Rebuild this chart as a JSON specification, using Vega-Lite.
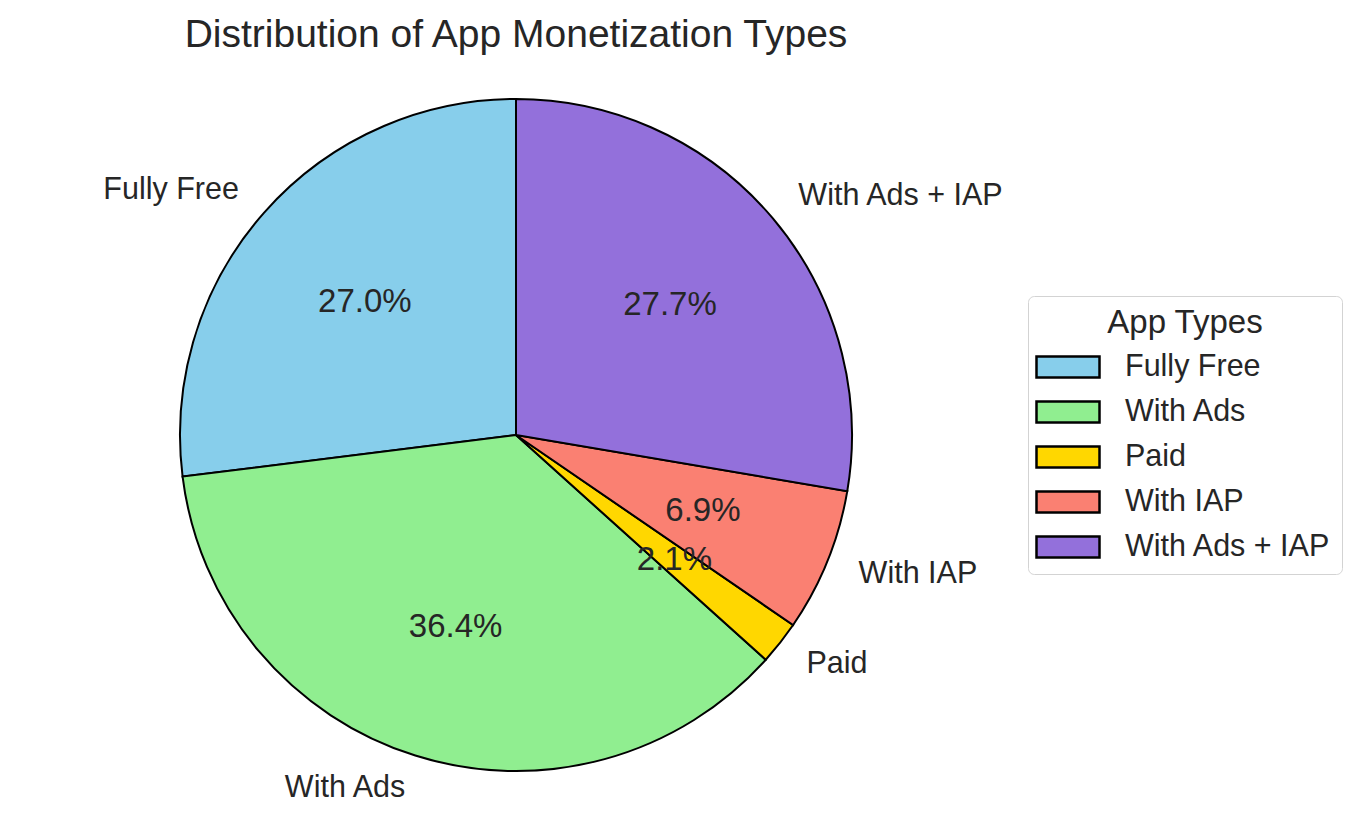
{
  "$schema": "https://vega.github.io/schema/vega-lite/v6.json",
  "width": 672,
  "height": 672,
  "autosize": {"type": "none"},
  "padding": {"left": 180, "top": 99, "right": 509, "bottom": 53},
  "background": "white",
  "config": {"view": {"stroke": null}, "font": "Liberation Sans"},
  "title": {
    "text": "Distribution of App Monetization Types",
    "font": "Liberation Sans",
    "fontSize": 39,
    "fontWeight": "normal",
    "color": "#262626",
    "anchor": "middle",
    "baseline": "alphabetic",
    "offset": 9
  },
  "data": {
    "values": [
      {"name": "Fully Free", "share": 0.270, "idx": 1},
      {"name": "With Ads", "share": 0.364, "idx": 2},
      {"name": "Paid", "share": 0.021, "idx": 3},
      {"name": "With IAP", "share": 0.069, "idx": 4},
      {"name": "With Ads + IAP", "share": 0.277, "idx": 5}
    ]
  },
  "encoding": {
    "theta": {"field": "share", "type": "quantitative", "stack": true},
    "order": {"field": "idx", "type": "quantitative", "sort": "descending"}
  },
  "layer": [
    {
      "mark": {"type": "arc", "outerRadius": 336, "stroke": "black", "strokeWidth": 2},
      "encoding": {
        "color": {
          "field": "name",
          "type": "nominal",
          "scale": {
            "domain": ["Fully Free", "With Ads", "Paid", "With IAP", "With Ads + IAP"],
            "range": ["#87CEEB", "#90EE90", "#FFD700", "#FA8072", "#9370DB"]
          },
          "legend": {
            "title": "App Types",
            "orient": "none",
            "legendX": 848,
            "legendY": 197,
            "titleFont": "Liberation Sans",
            "titleFontSize": 33,
            "titleFontWeight": "normal",
            "titleColor": "#262626",
            "titleAnchor": "middle",
            "titleAlign": "center",
            "titlePadding": -2,
            "labelFont": "Liberation Sans",
            "labelFontSize": 30.5,
            "labelColor": "#262626",
            "labelOffset": 28,
            "labelLimit": 400,
            "symbolType": "M-1.1455,-0.3818H1.1455V0.3818H-1.1455Z",
            "symbolSize": 3025,
            "symbolStrokeColor": "black",
            "symbolStrokeWidth": 2.5,
            "symbolOpacity": 1,
            "rowPadding": 0,
            "padding": 11,
            "strokeColor": "#d3d3d3",
            "cornerRadius": 6,
            "fillColor": "white"
          }
        }
      }
    },
    {
      "mark": {
        "type": "text",
        "radius": 201.6,
        "fontSize": 33,
        "font": "Liberation Sans",
        "color": "#262626",
        "align": "center",
        "baseline": "middle"
      },
      "encoding": {
        "text": {"field": "share", "type": "quantitative", "format": ".1%"}
      }
    },
    {
      "mark": {
        "type": "text",
        "radius": 369.6,
        "fontSize": 30.5,
        "font": "Liberation Sans",
        "color": "#262626",
        "baseline": "middle",
        "align": {"expr": "datum.name == 'Fully Free' || datum.name == 'With Ads' ? 'right' : 'left'"}
      },
      "encoding": {
        "text": {"field": "name", "type": "nominal"}
      }
    }
  ]
}
